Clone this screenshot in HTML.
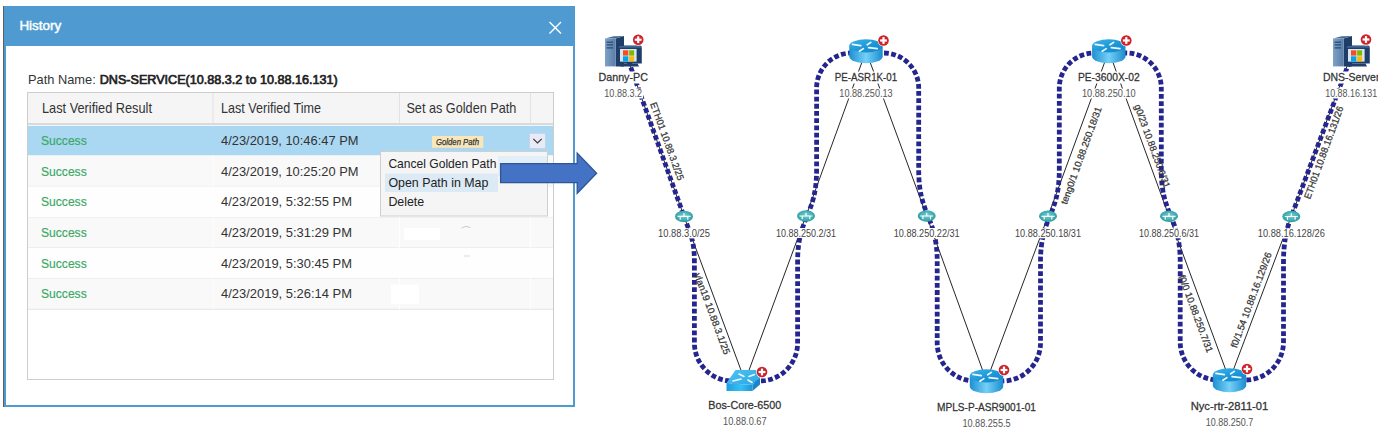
<!DOCTYPE html><html><head><meta charset="utf-8"><style>html,body{margin:0;padding:0;background:#fff;width:1378px;height:436px;overflow:hidden}svg{display:block}text{font-family:'Liberation Sans', sans-serif}</style></head><body>
<svg width="1378" height="436" viewBox="0 0 1378 436">
<defs>
<linearGradient id="rtop" x1="0" y1="0" x2="1" y2="1"><stop offset="0" stop-color="#3fb4ea"/><stop offset="0.6" stop-color="#1a94d6"/><stop offset="1" stop-color="#1585c8"/></linearGradient>
<linearGradient id="rside" x1="0" y1="0" x2="1" y2="0"><stop offset="0" stop-color="#1d8fd3"/><stop offset="0.5" stop-color="#74d0f6"/><stop offset="1" stop-color="#1b8ccf"/></linearGradient>
<radialGradient id="sub" cx="0.5" cy="0.45" r="0.6"><stop offset="0" stop-color="#7ccfd2"/><stop offset="0.7" stop-color="#3aa9ae"/><stop offset="1" stop-color="#2a9499"/></radialGradient>
<linearGradient id="pcfront" x1="0" y1="0" x2="1" y2="0"><stop offset="0" stop-color="#7fa1c6"/><stop offset="1" stop-color="#577ea8"/></linearGradient>
<linearGradient id="swtop" x1="0" y1="0" x2="1" y2="1"><stop offset="0" stop-color="#4cc4f2"/><stop offset="1" stop-color="#2aa7e6"/></linearGradient>
<linearGradient id="swfront" x1="0" y1="0" x2="1" y2="0"><stop offset="0" stop-color="#1e9de0"/><stop offset="0.55" stop-color="#35c1f5"/><stop offset="1" stop-color="#1d95d8"/></linearGradient>
</defs>
<rect x="3" y="6" width="1" height="401" fill="#5e5e5e"/>
<rect x="4" y="6" width="571" height="401" fill="#4f9bd1"/>
<rect x="6" y="46" width="567" height="359" fill="#ffffff"/>
<text x="19.4" y="30.3" font-size="13.3" fill="#ffffff" textLength="41.8" lengthAdjust="spacingAndGlyphs" text-anchor="start" stroke="#fff" stroke-width="0.45">History</text>
<g stroke="#ffffff" stroke-width="1.4" stroke-linecap="square"><path d="M550,22.5 L560.5,33 M560.5,22.5 L550,33"/></g>
<text x="28" y="83.6" font-size="12.8" fill="#333333" textLength="67.7" lengthAdjust="spacingAndGlyphs" text-anchor="start">Path Name:</text>
<text x="99.7" y="83.6" font-size="12.8" fill="#222222" textLength="238" lengthAdjust="spacingAndGlyphs" text-anchor="start" stroke="#222" stroke-width="0.7">DNS-SERVICE(10.88.3.2 to 10.88.16.131)</text>
<rect x="27.5" y="92.5" width="526" height="287" fill="#ffffff" stroke="#cdcdcd" stroke-width="1"/>
<rect x="28" y="93" width="525" height="30" fill="#f5f5f5"/>
<rect x="28" y="123" width="525" height="2" fill="#dadada"/>
<rect x="212.5" y="93" width="1" height="30" fill="#e2e2e2"/>
<rect x="399.0" y="93" width="1" height="30" fill="#e2e2e2"/>
<rect x="530.0" y="93" width="1" height="30" fill="#e2e2e2"/>
<text x="42" y="112.5" font-size="14.3" fill="#333333" textLength="110" lengthAdjust="spacingAndGlyphs" text-anchor="start">Last Verified Result</text>
<text x="221" y="112.5" font-size="14.3" fill="#333333" textLength="100" lengthAdjust="spacingAndGlyphs" text-anchor="start">Last Verified Time</text>
<text x="406.4" y="112.5" font-size="14.3" fill="#333333" textLength="110" lengthAdjust="spacingAndGlyphs" text-anchor="start">Set as Golden Path</text>
<rect x="28" y="125.8" width="525" height="29.700000000000003" fill="#aad7f2"/>
<text x="41" y="144.9" font-size="13" fill="#38a864" textLength="45.7" lengthAdjust="spacingAndGlyphs" text-anchor="start" stroke="#38a864" stroke-width="0.15">Success</text>
<text x="221" y="144.9" font-size="13.3" fill="#333333" textLength="137.5" lengthAdjust="spacingAndGlyphs" text-anchor="start">4/23/2019, 10:46:47 PM</text>
<rect x="28" y="155.5" width="525" height="30.900000000000006" fill="#f9f9f9"/>
<rect x="28" y="185.9" width="525" height="1" fill="#e4e4e4"/>
<text x="41" y="175.6" font-size="13" fill="#38a864" textLength="45.7" lengthAdjust="spacingAndGlyphs" text-anchor="start" stroke="#38a864" stroke-width="0.15">Success</text>
<text x="221" y="175.6" font-size="13.3" fill="#333333" textLength="137.5" lengthAdjust="spacingAndGlyphs" text-anchor="start">4/23/2019, 10:25:20 PM</text>
<rect x="28" y="186.4" width="525" height="31.5" fill="#fefefe"/>
<rect x="28" y="217.4" width="525" height="1" fill="#e4e4e4"/>
<text x="41" y="206.3" font-size="13" fill="#38a864" textLength="45.7" lengthAdjust="spacingAndGlyphs" text-anchor="start" stroke="#38a864" stroke-width="0.15">Success</text>
<text x="221" y="206.3" font-size="13.3" fill="#333333" textLength="131" lengthAdjust="spacingAndGlyphs" text-anchor="start">4/23/2019, 5:32:55 PM</text>
<rect x="28" y="217.9" width="525" height="30.099999999999994" fill="#f9f9f9"/>
<rect x="28" y="247.5" width="525" height="1" fill="#e4e4e4"/>
<text x="41" y="236.9" font-size="13" fill="#38a864" textLength="45.7" lengthAdjust="spacingAndGlyphs" text-anchor="start" stroke="#38a864" stroke-width="0.15">Success</text>
<text x="221" y="236.9" font-size="13.3" fill="#333333" textLength="131" lengthAdjust="spacingAndGlyphs" text-anchor="start">4/23/2019, 5:31:29 PM</text>
<rect x="28" y="248" width="525" height="30.5" fill="#fefefe"/>
<rect x="28" y="278.0" width="525" height="1" fill="#e4e4e4"/>
<text x="41" y="267.6" font-size="13" fill="#38a864" textLength="45.7" lengthAdjust="spacingAndGlyphs" text-anchor="start" stroke="#38a864" stroke-width="0.15">Success</text>
<text x="221" y="267.6" font-size="13.3" fill="#333333" textLength="131" lengthAdjust="spacingAndGlyphs" text-anchor="start">4/23/2019, 5:30:45 PM</text>
<rect x="28" y="278.5" width="525" height="30.80000000000001" fill="#f9f9f9"/>
<rect x="28" y="308.8" width="525" height="1" fill="#e4e4e4"/>
<text x="41" y="298.3" font-size="13" fill="#38a864" textLength="45.7" lengthAdjust="spacingAndGlyphs" text-anchor="start" stroke="#38a864" stroke-width="0.15">Success</text>
<text x="221" y="298.3" font-size="13.3" fill="#333333" textLength="131" lengthAdjust="spacingAndGlyphs" text-anchor="start">4/23/2019, 5:26:14 PM</text>
<rect x="212.5" y="155.5" width="1" height="154" fill="#ffffff" opacity="0.8"/>
<rect x="399.0" y="155.5" width="1" height="154" fill="#ffffff" opacity="0.8"/>
<rect x="530.0" y="155.5" width="1" height="154" fill="#ffffff" opacity="0.8"/>
<rect x="404" y="228" width="36" height="12" fill="#ffffff"/>
<rect x="391" y="284.5" width="28" height="19.5" fill="#ffffff"/>
<path d="M461.5,228 Q466,225 470.5,227.5" fill="none" stroke="#bdbdbd" stroke-width="0.8"/>
<rect x="464" y="255.6" width="6" height="0.8" fill="#d0d0d0"/>
<rect x="432" y="136" width="51.3" height="11.8" fill="#f9e7ba"/>
<text x="436" y="145" font-size="8.8" fill="#333333" font-style="italic" textLength="43" lengthAdjust="spacingAndGlyphs" text-anchor="start" stroke="#333" stroke-width="0.25">Golden Path</text>
<rect x="529.6" y="133.5" width="15.7" height="14.8" fill="#e8eaf6" stroke="#c8cde4" stroke-width="0.6"/>
<path d="M533.3,138.8 L537.5,143 L541.7,138.8" fill="none" stroke="#333" stroke-width="1.1"/>
<rect x="380.5" y="151.5" width="167" height="64.5" fill="#f5f5f5" stroke="#cfcfcf" stroke-width="1"/>
<rect x="498" y="156" width="49" height="20" fill="#e2eef8"/>
<rect x="385" y="173.5" width="113" height="18.5" fill="#dceaf6"/>
<text x="388.4" y="168" font-size="12.4" fill="#222222" textLength="108" lengthAdjust="spacingAndGlyphs" text-anchor="start">Cancel Golden Path</text>
<text x="388.4" y="187" font-size="12.4" fill="#222222" textLength="100" lengthAdjust="spacingAndGlyphs" text-anchor="start">Open Path in Map</text>
<text x="388.4" y="205.7" font-size="12.4" fill="#222222" textLength="35.8" lengthAdjust="spacingAndGlyphs" text-anchor="start">Delete</text>
<path d="M500.6,163.6 L577.2,163.6 L577.2,153 L596.6,173.3 L577.2,193.3 L577.2,182.6 L500.6,182.6 Z" fill="#4472c4" stroke="#2f5597" stroke-width="1.3"/>
<line x1="624.5" y1="50" x2="684" y2="216.4" stroke="#262626" stroke-width="1"/>
<line x1="684" y1="216.4" x2="745" y2="381" stroke="#262626" stroke-width="1"/>
<line x1="745" y1="381" x2="806" y2="216" stroke="#262626" stroke-width="1"/>
<line x1="806" y1="216" x2="866" y2="51" stroke="#262626" stroke-width="1"/>
<line x1="866" y1="51" x2="926.7" y2="216" stroke="#262626" stroke-width="1"/>
<line x1="926.7" y1="216" x2="986.5" y2="381" stroke="#262626" stroke-width="1"/>
<line x1="986.5" y1="381" x2="1048" y2="216.3" stroke="#262626" stroke-width="1"/>
<line x1="1048" y1="216.3" x2="1108.8" y2="51" stroke="#262626" stroke-width="1"/>
<line x1="1108.8" y1="51" x2="1169" y2="216.3" stroke="#262626" stroke-width="1"/>
<line x1="1169" y1="216.3" x2="1229.5" y2="380" stroke="#262626" stroke-width="1"/>
<line x1="1229.5" y1="380" x2="1291.3" y2="216.5" stroke="#262626" stroke-width="1"/>
<line x1="1291.3" y1="216.5" x2="1353" y2="50" stroke="#262626" stroke-width="1"/>
<path d="M 626.0,54 L 684,216.4 C 690.4,234.4 694.4,240 694.4,262 L 694.4,343 A 38 38 0 0 0 732.4,381 L 759.6,381 A 38 38 0 0 0 797.6,343 L 797.6,262 C 797.6,216 816.6,216 816.6,170 L 816.6,88 A 35 35 0 0 1 851.6,53 L 883.7,53 A 35 35 0 0 1 918.7,88 L 918.7,170 C 918.7,216 937.2,216 937.2,262 L 937.2,343 A 38 38 0 0 0 975.2,381 L 1002.5,381 A 38 38 0 0 0 1040.5,343 L 1040.5,262 C 1040.5,216 1059.3,216 1059.3,170 L 1059.3,88 A 35 35 0 0 1 1094.3,53 L 1126.3,53 A 35 35 0 0 1 1161.3,88 L 1161.3,170 C 1161.3,216 1180.2,216 1180.2,262 L 1180.2,342 A 38 38 0 0 0 1218.2,380 L 1245.5,380 A 38 38 0 0 0 1283.5,342 L 1283.5,262 C 1283.5,240 1287.6,226 1291.3,216.5 L 1351.5,56" fill="none" stroke="#25258f" stroke-width="4.8" stroke-dasharray="4.8 2.4"/>
<text transform="translate(667.2,141.2) rotate(70.1)" x="0" y="0" font-size="9.6" fill="#333" text-anchor="middle" dominant-baseline="central" textLength="82" lengthAdjust="spacingAndGlyphs" stroke="#333" stroke-width="0.25">ETH01 10.88.3.2/25</text>
<text transform="translate(712.4,313.6) rotate(69.6)" x="0" y="0" font-size="9.6" fill="#333" text-anchor="middle" dominant-baseline="central" textLength="86" lengthAdjust="spacingAndGlyphs" stroke="#333" stroke-width="0.25">vlan19 10.88.3.1/25</text>
<text transform="translate(1081,155.5) rotate(-70)" x="0" y="0" font-size="9.6" fill="#333" text-anchor="middle" dominant-baseline="central" textLength="103" lengthAdjust="spacingAndGlyphs" stroke="#333" stroke-width="0.25">teng0/1 10.88.250.18/31</text>
<text transform="translate(1152.5,146) rotate(70)" x="0" y="0" font-size="9.6" fill="#333" text-anchor="middle" dominant-baseline="central" textLength="88" lengthAdjust="spacingAndGlyphs" stroke="#333" stroke-width="0.25">g0/23 10.88.250.6/31</text>
<text transform="translate(1196,313.6) rotate(69.6)" x="0" y="0" font-size="9.6" fill="#333" text-anchor="middle" dominant-baseline="central" textLength="82" lengthAdjust="spacingAndGlyphs" stroke="#333" stroke-width="0.25">f0/0 10.88.250.7/31</text>
<text transform="translate(1251,300) rotate(-69.6)" x="0" y="0" font-size="9.6" fill="#333" text-anchor="middle" dominant-baseline="central" textLength="101" lengthAdjust="spacingAndGlyphs" stroke="#333" stroke-width="0.25">f0/1.54 10.88.16.129/26</text>
<text transform="translate(1323.5,152.6) rotate(-70)" x="0" y="0" font-size="9.6" fill="#333" text-anchor="middle" dominant-baseline="central" textLength="98" lengthAdjust="spacingAndGlyphs" stroke="#333" stroke-width="0.25">ETH01 10.88.16.131/26</text>
<g transform="translate(684,216.4)">
 <ellipse cx="0" cy="0" rx="9" ry="5.7" fill="url(#sub)"/>
 <g stroke="#fff" stroke-width="1.2" fill="none"><path d="M-6.5,0 H6.5 M0,0 V-3.2 M-3.8,0 V3.3 M3.8,0 V3.3"/></g>
</g>
<rect x="657.0" y="228.4" width="54" height="10" fill="#fff"/>
<text x="684" y="237.20000000000002" font-size="10.2" fill="#444444" textLength="52" lengthAdjust="spacingAndGlyphs" text-anchor="middle">10.88.3.0/25</text>
<g transform="translate(806,216)">
 <ellipse cx="0" cy="0" rx="9" ry="5.7" fill="url(#sub)"/>
 <g stroke="#fff" stroke-width="1.2" fill="none"><path d="M-6.5,0 H6.5 M0,0 V-3.2 M-3.8,0 V3.3 M3.8,0 V3.3"/></g>
</g>
<rect x="775.0" y="228" width="62" height="10" fill="#fff"/>
<text x="806" y="236.8" font-size="10.2" fill="#444444" textLength="60" lengthAdjust="spacingAndGlyphs" text-anchor="middle">10.88.250.2/31</text>
<g transform="translate(926.7,216)">
 <ellipse cx="0" cy="0" rx="9" ry="5.7" fill="url(#sub)"/>
 <g stroke="#fff" stroke-width="1.2" fill="none"><path d="M-6.5,0 H6.5 M0,0 V-3.2 M-3.8,0 V3.3 M3.8,0 V3.3"/></g>
</g>
<rect x="892.7" y="228" width="68" height="10" fill="#fff"/>
<text x="926.7" y="236.8" font-size="10.2" fill="#444444" textLength="66" lengthAdjust="spacingAndGlyphs" text-anchor="middle">10.88.250.22/31</text>
<g transform="translate(1048,216.3)">
 <ellipse cx="0" cy="0" rx="9" ry="5.7" fill="url(#sub)"/>
 <g stroke="#fff" stroke-width="1.2" fill="none"><path d="M-6.5,0 H6.5 M0,0 V-3.2 M-3.8,0 V3.3 M3.8,0 V3.3"/></g>
</g>
<rect x="1014.0" y="228.3" width="68" height="10" fill="#fff"/>
<text x="1048" y="237.10000000000002" font-size="10.2" fill="#444444" textLength="66" lengthAdjust="spacingAndGlyphs" text-anchor="middle">10.88.250.18/31</text>
<g transform="translate(1169,216.3)">
 <ellipse cx="0" cy="0" rx="9" ry="5.7" fill="url(#sub)"/>
 <g stroke="#fff" stroke-width="1.2" fill="none"><path d="M-6.5,0 H6.5 M0,0 V-3.2 M-3.8,0 V3.3 M3.8,0 V3.3"/></g>
</g>
<rect x="1138.0" y="228.3" width="62" height="10" fill="#fff"/>
<text x="1169" y="237.10000000000002" font-size="10.2" fill="#444444" textLength="60" lengthAdjust="spacingAndGlyphs" text-anchor="middle">10.88.250.6/31</text>
<g transform="translate(1291.3,216.5)">
 <ellipse cx="0" cy="0" rx="9" ry="5.7" fill="url(#sub)"/>
 <g stroke="#fff" stroke-width="1.2" fill="none"><path d="M-6.5,0 H6.5 M0,0 V-3.2 M-3.8,0 V3.3 M3.8,0 V3.3"/></g>
</g>
<rect x="1256.8" y="228.5" width="69" height="10" fill="#fff"/>
<text x="1291.3" y="237.3" font-size="10.2" fill="#444444" textLength="67" lengthAdjust="spacingAndGlyphs" text-anchor="middle">10.88.16.128/26</text>
<g transform="translate(605,36)">
 <path d="M10.7,2.6 L19,0 L19,30.4 L10.7,30.4 Z" fill="#1f3d68"/>
 <path d="M0,2.6 L10.7,2.6 L19,0 L8.5,0.2 Z" fill="#466c98"/>
 <rect x="0" y="2.6" width="10.7" height="27.8" fill="url(#pcfront)"/>
 <g fill="#24466f"><rect x="1.6" y="5.6" width="6.4" height="1.2"/><rect x="1.6" y="8.3" width="6.4" height="1.2"/><rect x="1.6" y="11.3" width="6.4" height="1.2"/></g>
 <path d="M12.9,12 Q12.9,9.6 15,9.6 L35,9.6 Q36.8,9.6 36.8,12 L36.8,27.6 L12.9,27.6 Z" fill="#1f3f6a"/>
 <path d="M13.6,11.6 Q13.8,10.2 15.2,10.2 L34.8,10.2 Q36,10.2 36.2,11.6 Z" fill="#4a72a0"/>
 <path d="M17,27.4 L32.5,27.4 L34,30.4 L15.6,30.4 Z" fill="#1f3f6a"/>
 <rect x="15" y="13" width="16.6" height="12.6" fill="#d9e5f0"/>
 <rect x="18" y="14.3" width="5.3" height="5.3" fill="#f25022"/>
 <rect x="24.1" y="14.3" width="5" height="5.3" fill="#7fba00"/>
 <rect x="18" y="20.3" width="5.3" height="5" fill="#00a4ef"/>
 <rect x="24.1" y="20.3" width="5" height="5" fill="#ffb900"/>
</g>
<g transform="translate(638.2,39.7)"><circle r="5.9" fill="#fff"/><circle r="5.3" fill="#cf2229"/><rect x="-3.4" y="-1.1" width="6.8" height="2.2" fill="#fff"/><rect x="-1.1" y="-3.4" width="2.2" height="6.8" fill="#fff"/></g>
<rect x="597.5" y="71.5" width="51.4" height="12" fill="#fff"/>
<text x="623.2" y="80.6" font-size="11.8" fill="#333333" textLength="49.4" lengthAdjust="spacingAndGlyphs" text-anchor="middle" stroke="#333333" stroke-width="0.28">Danny-PC</text>
<rect x="603.35" y="88.5" width="39.7" height="10" fill="#fff"/>
<text x="623.2" y="96.9" font-size="10.2" fill="#555555" textLength="37.7" lengthAdjust="spacingAndGlyphs" text-anchor="middle">10.88.3.2</text>
<g transform="translate(1333,36)">
 <path d="M10.7,2.6 L19,0 L19,30.4 L10.7,30.4 Z" fill="#1f3d68"/>
 <path d="M0,2.6 L10.7,2.6 L19,0 L8.5,0.2 Z" fill="#466c98"/>
 <rect x="0" y="2.6" width="10.7" height="27.8" fill="url(#pcfront)"/>
 <g fill="#24466f"><rect x="1.6" y="5.6" width="6.4" height="1.2"/><rect x="1.6" y="8.3" width="6.4" height="1.2"/><rect x="1.6" y="11.3" width="6.4" height="1.2"/></g>
 <path d="M12.9,12 Q12.9,9.6 15,9.6 L35,9.6 Q36.8,9.6 36.8,12 L36.8,27.6 L12.9,27.6 Z" fill="#1f3f6a"/>
 <path d="M13.6,11.6 Q13.8,10.2 15.2,10.2 L34.8,10.2 Q36,10.2 36.2,11.6 Z" fill="#4a72a0"/>
 <path d="M17,27.4 L32.5,27.4 L34,30.4 L15.6,30.4 Z" fill="#1f3f6a"/>
 <rect x="15" y="13" width="16.6" height="12.6" fill="#d9e5f0"/>
 <rect x="18" y="14.3" width="5.3" height="5.3" fill="#f25022"/>
 <rect x="24.1" y="14.3" width="5" height="5.3" fill="#7fba00"/>
 <rect x="18" y="20.3" width="5.3" height="5" fill="#00a4ef"/>
 <rect x="24.1" y="20.3" width="5" height="5" fill="#ffb900"/>
</g>
<g transform="translate(1366,39.5)"><circle r="5.9" fill="#fff"/><circle r="5.3" fill="#cf2229"/><rect x="-3.4" y="-1.1" width="6.8" height="2.2" fill="#fff"/><rect x="-1.1" y="-3.4" width="2.2" height="6.8" fill="#fff"/></g>
<rect x="1321.95" y="71.5" width="58.5" height="12" fill="#fff"/>
<text x="1351.2" y="80.6" font-size="11.8" fill="#333333" textLength="56.5" lengthAdjust="spacingAndGlyphs" text-anchor="middle" stroke="#333333" stroke-width="0.28">DNS-Server</text>
<rect x="1324.2" y="88.5" width="54" height="10" fill="#fff"/>
<text x="1351.2" y="96.9" font-size="10.2" fill="#555555" textLength="52" lengthAdjust="spacingAndGlyphs" text-anchor="middle">10.88.16.131</text>
<g transform="translate(866,51)">
 <path d="M-16.7,-5.2 L-16.7,5.6 A16.7,6.6 0 0 0 16.7,5.6 L16.7,-5.2 Z" fill="url(#rside)"/>
 <ellipse cx="0" cy="-5.2" rx="16.7" ry="6.6" fill="url(#rtop)"/>
 <g stroke="#eef8fd" stroke-width="1.7" stroke-linecap="round" fill="none">
  <path d="M-13.5,-6.6 L-5.2,-5.4"/><path d="M-6.6,0.2 L-2.6,-2.4"/><path d="M1.2,-6.2 L4.8,-8.6"/><path d="M2.6,-3.4 L11.2,-2.4"/>
 </g>
</g>
<g transform="translate(883.5,40.5)"><circle r="5.9" fill="#fff"/><circle r="5.3" fill="#cf2229"/><rect x="-3.4" y="-1.1" width="6.8" height="2.2" fill="#fff"/><rect x="-1.1" y="-3.4" width="2.2" height="6.8" fill="#fff"/></g>
<rect x="833.8" y="71.5" width="64.4" height="12" fill="#fff"/>
<text x="866" y="80.6" font-size="11.8" fill="#333333" textLength="62.4" lengthAdjust="spacingAndGlyphs" text-anchor="middle" stroke="#333333" stroke-width="0.28">PE-ASR1K-01</text>
<rect x="838.3" y="88.5" width="55.4" height="10" fill="#fff"/>
<text x="866" y="96.9" font-size="10.2" fill="#555555" textLength="53.4" lengthAdjust="spacingAndGlyphs" text-anchor="middle">10.88.250.13</text>
<g transform="translate(1108.8,51)">
 <path d="M-16.7,-5.2 L-16.7,5.6 A16.7,6.6 0 0 0 16.7,5.6 L16.7,-5.2 Z" fill="url(#rside)"/>
 <ellipse cx="0" cy="-5.2" rx="16.7" ry="6.6" fill="url(#rtop)"/>
 <g stroke="#eef8fd" stroke-width="1.7" stroke-linecap="round" fill="none">
  <path d="M-13.5,-6.6 L-5.2,-5.4"/><path d="M-6.6,0.2 L-2.6,-2.4"/><path d="M1.2,-6.2 L4.8,-8.6"/><path d="M2.6,-3.4 L11.2,-2.4"/>
 </g>
</g>
<g transform="translate(1126.3,40.5)"><circle r="5.9" fill="#fff"/><circle r="5.3" fill="#cf2229"/><rect x="-3.4" y="-1.1" width="6.8" height="2.2" fill="#fff"/><rect x="-1.1" y="-3.4" width="2.2" height="6.8" fill="#fff"/></g>
<rect x="1076.8999999999999" y="71.5" width="63.8" height="12" fill="#fff"/>
<text x="1108.8" y="80.6" font-size="11.8" fill="#333333" textLength="61.8" lengthAdjust="spacingAndGlyphs" text-anchor="middle" stroke="#333333" stroke-width="0.28">PE-3600X-02</text>
<rect x="1080.8999999999999" y="88.5" width="55.8" height="10" fill="#fff"/>
<text x="1108.8" y="96.9" font-size="10.2" fill="#555555" textLength="53.8" lengthAdjust="spacingAndGlyphs" text-anchor="middle">10.88.250.10</text>
<g transform="translate(745,381)">
 <path d="M-18.5,2 L7.5,4 L7.5,10 L-18.5,10 Z" fill="url(#swfront)"/>
 <path d="M7.5,4 L15,-3.5 L15,3.5 L7.5,10 Z" fill="#1a86c6"/>
 <path d="M-9.5,-11 L11,-11 L15,-3.5 L7.5,4 L-18.5,2 Z" fill="url(#swtop)"/>
 <g stroke="#eef8fd" stroke-width="1.6" stroke-linecap="round" fill="none">
  <path d="M-6,-7 L-1,-4.5"/><path d="M4,-4.5 L9.5,-6.5"/><path d="M-12,0 L-4,-2"/><path d="M3,-1 L7,1.5"/>
 </g>
</g>
<g transform="translate(762,372)"><circle r="5.9" fill="#fff"/><circle r="5.3" fill="#cf2229"/><rect x="-3.4" y="-1.1" width="6.8" height="2.2" fill="#fff"/><rect x="-1.1" y="-3.4" width="2.2" height="6.8" fill="#fff"/></g>
<rect x="707.3" y="399.5" width="75" height="12" fill="#fff"/>
<text x="744.8" y="408.6" font-size="11.8" fill="#333333" textLength="73" lengthAdjust="spacingAndGlyphs" text-anchor="middle" stroke="#333333" stroke-width="0.28">Bos-Core-6500</text>
<rect x="722.0" y="416.5" width="45.6" height="10" fill="#fff"/>
<text x="744.8" y="424.9" font-size="10.2" fill="#555555" textLength="43.6" lengthAdjust="spacingAndGlyphs" text-anchor="middle">10.88.0.67</text>
<g transform="translate(986.5,381)">
 <path d="M-16.7,-5.2 L-16.7,5.6 A16.7,6.6 0 0 0 16.7,5.6 L16.7,-5.2 Z" fill="url(#rside)"/>
 <ellipse cx="0" cy="-5.2" rx="16.7" ry="6.6" fill="url(#rtop)"/>
 <g stroke="#eef8fd" stroke-width="1.7" stroke-linecap="round" fill="none">
  <path d="M-13.5,-6.6 L-5.2,-5.4"/><path d="M-6.6,0.2 L-2.6,-2.4"/><path d="M1.2,-6.2 L4.8,-8.6"/><path d="M2.6,-3.4 L11.2,-2.4"/>
 </g>
</g>
<g transform="translate(1004.0,370)"><circle r="5.9" fill="#fff"/><circle r="5.3" fill="#cf2229"/><rect x="-3.4" y="-1.1" width="6.8" height="2.2" fill="#fff"/><rect x="-1.1" y="-3.4" width="2.2" height="6.8" fill="#fff"/></g>
<rect x="936.0" y="401.5" width="101" height="12" fill="#fff"/>
<text x="986.5" y="410.6" font-size="11.8" fill="#333333" textLength="99" lengthAdjust="spacingAndGlyphs" text-anchor="middle" stroke="#333333" stroke-width="0.28">MPLS-P-ASR9001-01</text>
<rect x="961.4" y="418.5" width="50.2" height="10" fill="#fff"/>
<text x="986.5" y="426.9" font-size="10.2" fill="#555555" textLength="48.2" lengthAdjust="spacingAndGlyphs" text-anchor="middle">10.88.255.5</text>
<g transform="translate(1229.5,380)">
 <path d="M-16.7,-5.2 L-16.7,5.6 A16.7,6.6 0 0 0 16.7,5.6 L16.7,-5.2 Z" fill="url(#rside)"/>
 <ellipse cx="0" cy="-5.2" rx="16.7" ry="6.6" fill="url(#rtop)"/>
 <g stroke="#eef8fd" stroke-width="1.7" stroke-linecap="round" fill="none">
  <path d="M-13.5,-6.6 L-5.2,-5.4"/><path d="M-6.6,0.2 L-2.6,-2.4"/><path d="M1.2,-6.2 L4.8,-8.6"/><path d="M2.6,-3.4 L11.2,-2.4"/>
 </g>
</g>
<g transform="translate(1247.0,369)"><circle r="5.9" fill="#fff"/><circle r="5.3" fill="#cf2229"/><rect x="-3.4" y="-1.1" width="6.8" height="2.2" fill="#fff"/><rect x="-1.1" y="-3.4" width="2.2" height="6.8" fill="#fff"/></g>
<rect x="1189.65" y="400.5" width="79.7" height="12" fill="#fff"/>
<text x="1229.5" y="409.6" font-size="11.8" fill="#333333" textLength="77.7" lengthAdjust="spacingAndGlyphs" text-anchor="middle" stroke="#333333" stroke-width="0.28">Nyc-rtr-2811-01</text>
<rect x="1204.75" y="417.5" width="49.5" height="10" fill="#fff"/>
<text x="1229.5" y="425.9" font-size="10.2" fill="#555555" textLength="47.5" lengthAdjust="spacingAndGlyphs" text-anchor="middle">10.88.250.7</text>
</svg></body></html>
